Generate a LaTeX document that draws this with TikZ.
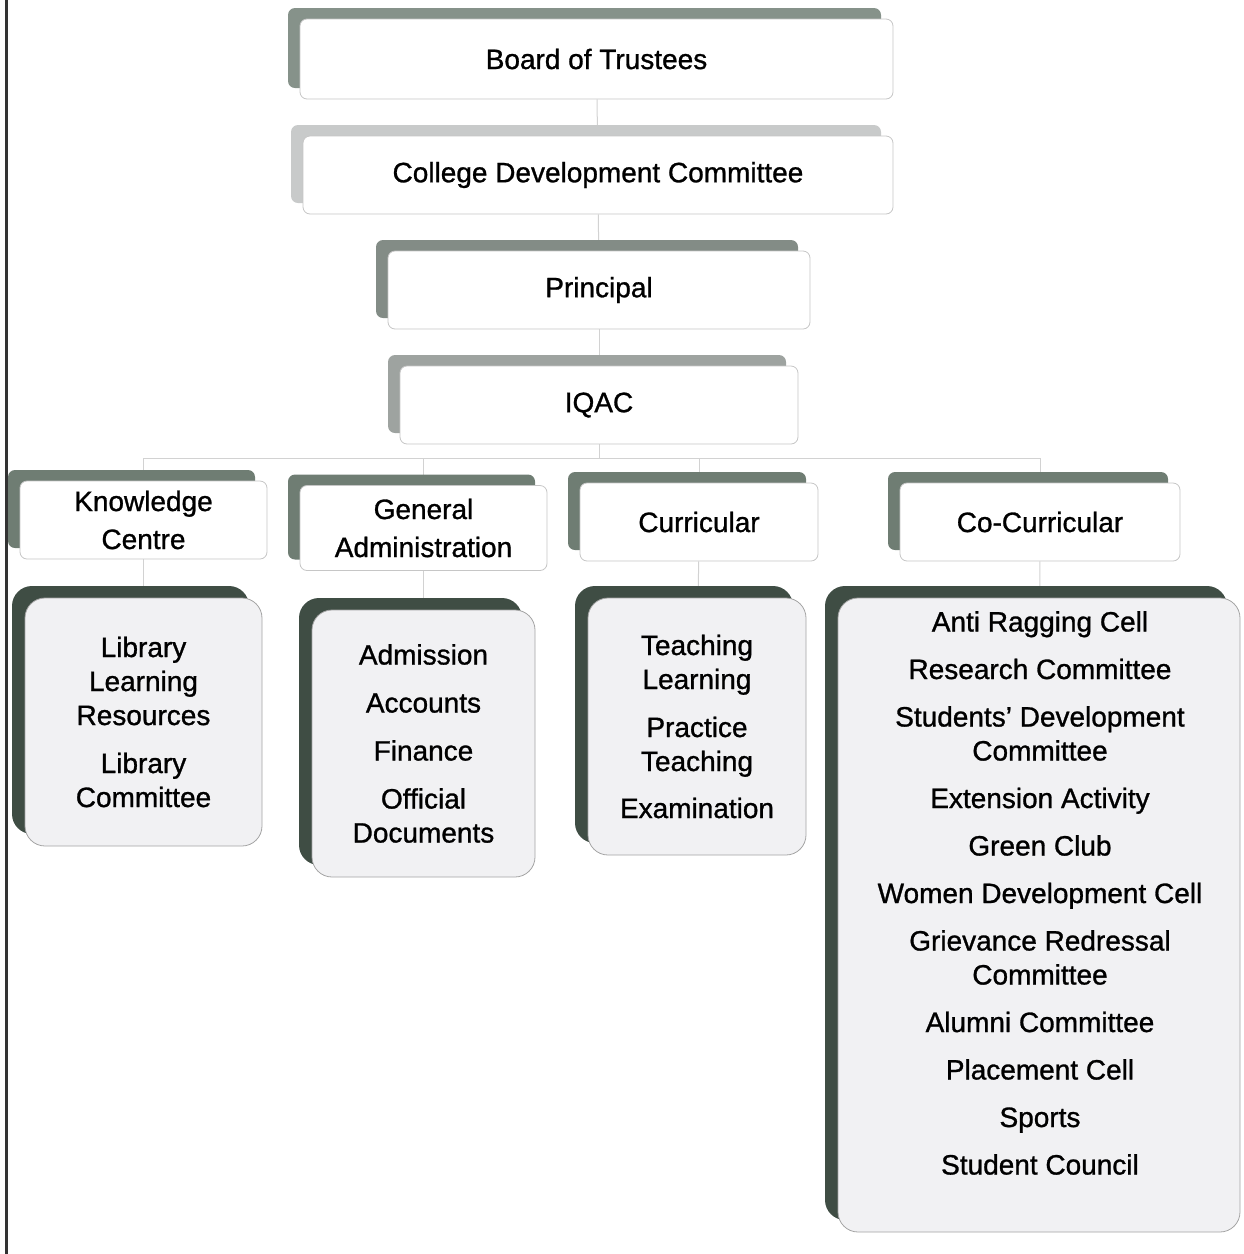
\documentclass[tikz,border=0pt]{standalone}
\usepackage{fontspec}
\setmainfont{Liberation Sans}[FakeBold=1]
\usetikzlibrary{shadows,backgrounds}

\definecolor{boxline}{HTML}{C6C6C6}
\definecolor{lowline}{HTML}{A4A4A4}
\definecolor{lowfill}{HTML}{F1F1F3}
\definecolor{linkgray}{HTML}{D2D2D2}
\definecolor{shboard}{HTML}{86928A}
\definecolor{shcdc}{HTML}{C8CACA}
\definecolor{shprin}{HTML}{838C86}
\definecolor{shiqac}{HTML}{9EA3A0}
\definecolor{shmid}{HTML}{6F7D73}
\definecolor{shlow}{HTML}{3F4D44}

\begin{document}
\begin{tikzpicture}[x=1pt, y=-1pt,
    topbox/.style={draw=boxline, fill=white, line width=0.8pt, rounded corners=7pt,
        align=center, font=\fontsize{28}{38}\selectfont,
        drop shadow={shadow xshift=-12pt, shadow yshift=11pt, fill=#1, opacity=1}},
    lowbox/.style={draw=lowline, fill=lowfill, line width=0.8pt, rounded corners=20pt,
        align=center, font=\fontsize{28}{34}\selectfont,
        drop shadow={shadow xshift=-13pt, shadow yshift=12pt, fill=shlow, opacity=1}},
    link/.style={draw=linkgray, line width=1pt}]
    \useasboundingbox (0,0) rectangle (1244,1254);
    \draw[line width=3pt, black!80] (6,0) -- (6,1254);

    % top of the chart
    \node[topbox=shboard, minimum width=593, minimum height=80](board) at (596.5, 59) {Board of Trustees};
    \node[topbox=shcdc, minimum width=590, minimum height=78](cdc) at (598, 175) {College Development Committee};
    \node[topbox=shprin, minimum width=422, minimum height=78](principal) at (599, 290) {Principal};
    \node[topbox=shiqac, minimum width=398, minimum height=78](iqac) at (599, 405) {IQAC};

    % four wings
    \node[topbox=shmid, minimum width=247, minimum height=78](knowledge) at (143.5, 520) {Knowledge\\Centre};
    \node[topbox=shmid, minimum width=247, minimum height=85](general) at (423.5, 528) {General\\Administration};
    \node[topbox=shmid, minimum width=238, minimum height=78](curricular) at (699, 522) {Curricular};
    \node[topbox=shmid, minimum width=280, minimum height=78](cocurricular) at (1040, 522) {Co-Curricular};

    \node[lowbox, minimum width=237, minimum height=248](library) at (143.5, 722)
        {Library\\Learning\\Resources\\[14pt]Library\\Committee};
    \node[lowbox, minimum width=223, minimum height=267](admin) at (423.5, 743.5)
        {Admission\\[14pt]Accounts\\[14pt]Finance\\[14pt]Official\\Documents};
    \node[lowbox, minimum width=218, minimum height=257](teaching) at (697, 726.5)
        {Teaching\\Learning\\[14pt]Practice\\Teaching\\[13pt]Examination};
    \node[lowbox, minimum width=402, minimum height=634](cells) at (1039, 915) {};
    \node[anchor=north, inner sep=0pt, align=center, font=\fontsize{28}{34}\selectfont](cellslist) at (1040, 611)
        {Anti Ragging Cell\\[13.5pt]Research Committee\\[13.5pt]Students' Development\\Committee\\[13.5pt]%
         Extension Activity\\[13.5pt]Green Club\\[13.5pt]Women Development Cell\\[13.5pt]%
         Grievance Redressal\\Committee\\[13.5pt]Alumni Committee\\[13.5pt]Placement Cell\\[13.5pt]%
         Sports\\[13.5pt]Student Council};

    \coordinate(bus) at (599, 458);

    \begin{pgfonlayer}{background}
        \path[link] (board) -- (cdc);
        \path[link] (cdc) -- (principal);
        \path[link] (principal) -- (iqac);
        \path[link] (iqac) -- (bus);
        \path[link] (bus) -| (knowledge);
        \path[link] (bus) -| (general);
        \path[link] (bus) -| (curricular);
        \path[link] (bus) -| (cocurricular);
        \path[link] (knowledge) -- (library);
        \path[link] (general) -- (admin);
        \path[link] (curricular) -- (teaching);
        \path[link] (cocurricular) -- (cells);
    \end{pgfonlayer}
\end{tikzpicture}
\end{document}
